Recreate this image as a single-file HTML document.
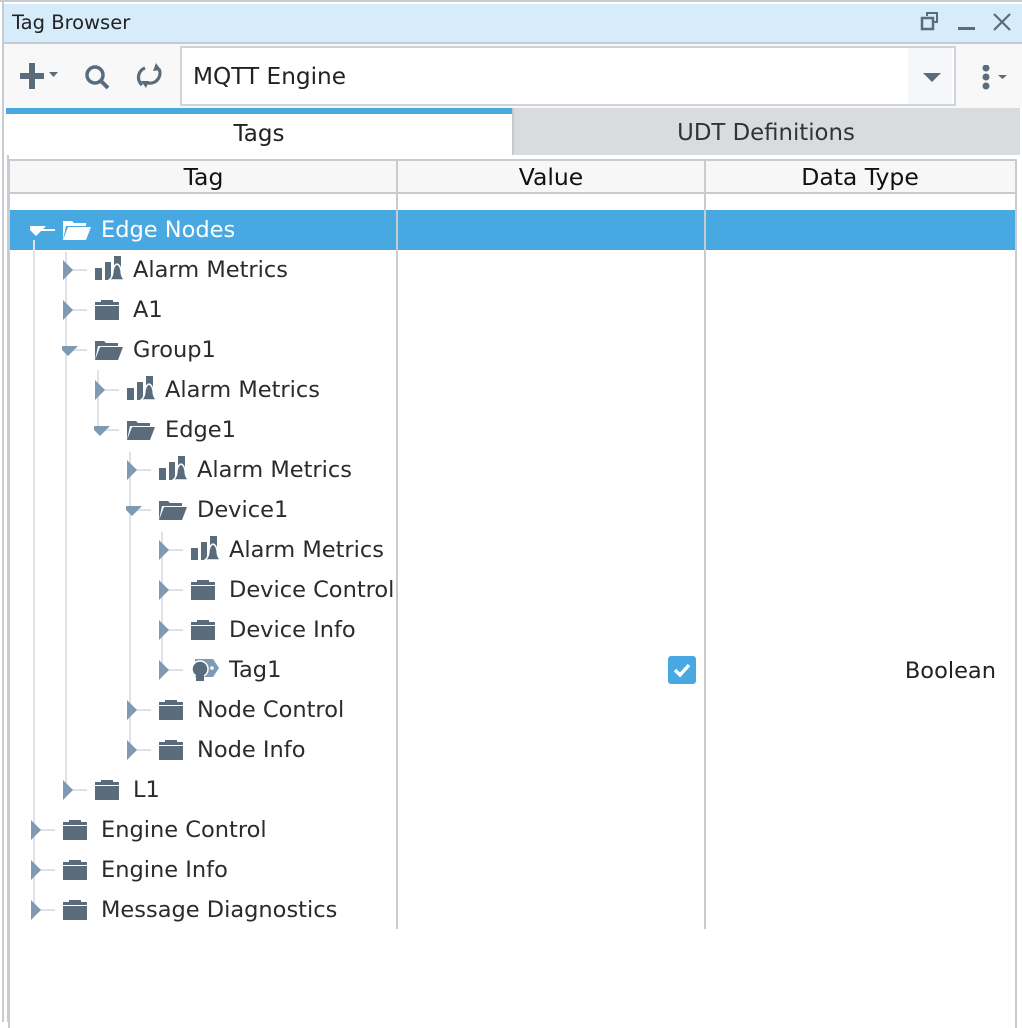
<!DOCTYPE html>
<html><head><meta charset="utf-8"><style>
html,body{margin:0;padding:0;}
body{width:1022px;height:1022px;position:relative;overflow:hidden;background:#fff;font-family:"DejaVu Sans","Liberation Sans",sans-serif;color:#2b2b2b;}
.a{position:absolute;}
.t{position:absolute;font-size:22.5px;line-height:40px;white-space:nowrap;}
</style></head><body>
<div class="a" style="left:0;top:0;width:1022px;height:2px;background:#c8cbcf"></div>
<div class="a" style="top:0;width:2px;height:1022px;background:#c8cbcf;left:2px"></div>
<div class="a" style="left:7px;top:155px;width:2px;height:867px;background:#c8cbcf"></div>
<div class="a" style="left:4px;top:4px;width:1018px;height:38px;background:#d6ecfb;border-bottom:2px solid #c2ccd4"></div>
<div class="a" style="left:12px;top:4px;font-size:19.5px;line-height:38px;color:#222">Tag Browser</div>
<svg class="a" style="left:915px;top:10px" width="107" height="30">
<rect x="7" y="8" width="11" height="11" fill="none" stroke="#5a6b7b" stroke-width="2.5"/>
<path d="M12 6 V3 H22 V12 H19" fill="none" stroke="#5a6b7b" stroke-width="2"/>
<rect x="43" y="17" width="17" height="3" fill="#5a6b7b"/>
<path d="M79 4 L95 20 M95 4 L79 20" stroke="#5a6b7b" stroke-width="2.2"/>
</svg>
<div class="a" style="left:4px;top:44px;width:1018px;height:64px;background:#f8f8f8"></div>
<svg class="a" style="left:15px;top:60px" width="160" height="36">
<rect x="5" y="13" width="24" height="6" fill="#5a6b7b"/><rect x="14" y="3" width="6" height="26" fill="#5a6b7b"/>
<path d="M34 12 h9 l-4.5 5z" fill="#5a6b7b"/>
<circle cx="80" cy="15" r="8" fill="none" stroke="#5a6b7b" stroke-width="3.5"/>
<path d="M86 21 L93 28" stroke="#5a6b7b" stroke-width="4"/>
<path d="M130 8 A10 10 0 0 0 127 25 M133 23 A10 10 0 0 0 144 9" fill="none" stroke="#5a6b7b" stroke-width="3.2"/>
<path d="M141 3 L146 10 L138 11z M131 28 L126 21 L134 21z" fill="#5a6b7b"/>
</svg>
<div class="a" style="left:180px;top:46px;width:772px;height:56px;background:#fff;border:2px solid #cfd3d7"></div>
<div class="a" style="left:908px;top:48px;width:44px;height:56px;background:#f5f7f9"></div>
<div class="a" style="left:193px;top:47px;font-size:23.2px;line-height:60px;color:#222">MQTT Engine</div>
<svg class="a" style="left:920px;top:65px" width="100" height="30">
<path d="M3 8 h18 l-9 9z" fill="#5a6b7b"/>
<circle cx="66" cy="3" r="3.5" fill="#5a6b7b"/><circle cx="66" cy="12" r="3.5" fill="#5a6b7b"/><circle cx="66" cy="21" r="3.5" fill="#5a6b7b"/>
<path d="M78 10 h9 l-4.5 4z" fill="#5a6b7b"/>
</svg>
<div class="a" style="left:6px;top:108px;width:506px;height:6px;background:#48a8e2"></div>
<div class="a" style="left:512px;top:108px;width:508px;height:47px;background:#d9dcdf;border-left:2px solid #c5c9cd;box-sizing:border-box"></div>
<div class="a" style="left:6px;top:114px;width:506px;text-align:center;font-size:23px;line-height:40px;color:#222">Tags</div>
<div class="a" style="left:512px;top:113px;width:508px;text-align:center;font-size:22.8px;line-height:40px;color:#333">UDT Definitions</div>
<div class="a" style="left:8px;top:159px;width:1009px;height:869px;border:2px solid #c8cbcf;border-bottom:none;box-sizing:border-box"></div>
<div class="a" style="left:10px;top:161px;width:1005px;height:31px;background:#f7f7f7;border-bottom:2px solid #c8cbcf"></div>
<div class="a" style="left:10px;top:161px;width:387px;text-align:center;font-size:23.5px;line-height:33px;color:#111">Tag</div>
<div class="a" style="left:397px;top:161px;width:308px;text-align:center;font-size:23.5px;line-height:33px;color:#111">Value</div>
<div class="a" style="left:705px;top:161px;width:310px;text-align:center;font-size:23.5px;line-height:33px;color:#111">Data Type</div>
<div class="a" style="left:10px;top:210px;width:1005px;height:40px;background:#48a8e2"></div>
<div class="a" style="left:396px;top:161px;width:2px;height:768px;background:#c8cbcf"></div>
<div class="a" style="left:704px;top:161px;width:2px;height:768px;background:#c8cbcf"></div>
<div id="tree"></div>
<svg class="a" style="left:668px;top:656px" width="28" height="28"><rect x="0" y="0" width="28" height="28" rx="3" fill="#48a8e2"/><path d="M7 14 L12 19 L21 9" fill="none" stroke="#fff" stroke-width="3.5"/></svg>
<div class="t" style="right:26px;top:651px;color:#222">Boolean</div>
<script>
var rows=[
[0,'Edge Nodes','open','d',1],
[1,'Alarm Metrics','alarm','r'],
[1,'A1','folder','r'],
[1,'Group1','open','d'],
[2,'Alarm Metrics','alarm','r'],
[2,'Edge1','open','d'],
[3,'Alarm Metrics','alarm','r'],
[3,'Device1','open','d'],
[4,'Alarm Metrics','alarm','r'],
[4,'Device Control','folder','r'],
[4,'Device Info','folder','r'],
[4,'Tag1','tag','r'],
[3,'Node Control','folder','r'],
[3,'Node Info','folder','r'],
[1,'L1','folder','r'],
[0,'Engine Control','folder','r'],
[0,'Engine Info','folder','r'],
[0,'Message Diagnostics','folder','r']];
var h='';var lc='#dfe3e7';
function vl(x,y1,y2){h+='<div class="a" style="left:'+x+'px;top:'+y1+'px;width:2px;height:'+(y2-y1)+'px;background:'+lc+'"></div>';}
vl(33,240,912);vl(65,252,792);vl(97,370,432);vl(129,452,752);vl(161,532,672);
rows.forEach(function(r,i){
 var L=r[0],y=210+i*40,cy=y+20,bx=30+L*32,sel=r[4];
 var col=sel?'#fff':'#7f9bb3',ic=sel?'#fff':'#5a6b7b';
 h+='<div class="a" style="left:'+(bx+10)+'px;top:'+(cy-1)+'px;width:15px;height:2px;background:'+(sel?'#fff':lc)+'"></div>';
 var s='<svg class="a" style="left:'+bx+'px;top:'+(y)+'px" width="64" height="40">';
 if(r[3]=='r') s+='<path d="M1 10 L11 20 L1 30z" fill="'+col+'"/>';
 else s+='<path d="M-4 16 L16 16 L6 26z" fill="'+col+'"/>';
 var o=33;
 if(r[2]=='folder') s+='<path d="M'+(o)+' 12 h24 v3 h-24z M'+(o+6)+' 10 h12 v2 h-12z" fill="'+ic+'"/><rect x="'+o+'" y="16" width="24" height="14" fill="'+ic+'"/>';
 if(r[2]=='open') s+='<path d="M'+o+' 11 h9 l2 2 h12 v3 h-20 l-3 14 z M'+(o+5)+' 17 h23 l-5 13 h-23z" fill="'+ic+'"/>';
 if(r[2]=='alarm') s+='<rect x="'+o+'" y="18" width="7" height="12" fill="'+ic+'"/><rect x="'+(o+10)+'" y="12" width="6" height="18" fill="'+ic+'"/><rect x="'+(o+19)+'" y="6" width="7" height="16" fill="'+ic+'"/><path d="M'+(o+14)+' 30 q4 -3 4 -10 q1 -5 4 -6 q3 1 4 6 q0 7 4 10z" fill="'+ic+'" stroke="#fff" stroke-width="1.5"/>';
 if(r[2]=='tag') s+='<path d="M'+(o+4)+' 9 h18 l6 9 l-6 9 h-18z" fill="#7f9bb3"/><circle cx="'+(o+9)+'" cy="19" r="8" fill="#5a6b7b" stroke="#fff" stroke-width="1.5"/><rect x="'+(o+5)+'" y="24" width="8" height="7" fill="#5a6b7b"/><circle cx="'+(o+21)+'" cy="18" r="1.8" fill="#fff"/>';
 s+='</svg>';h+=s;
 h+='<div class="t" style="left:'+(bx+71)+'px;top:'+y+'px;color:'+(sel?'#fff':'#2b2b2b')+'">'+r[1]+'</div>';
});
document.getElementById('tree').innerHTML=h;
</script>
</body></html>
